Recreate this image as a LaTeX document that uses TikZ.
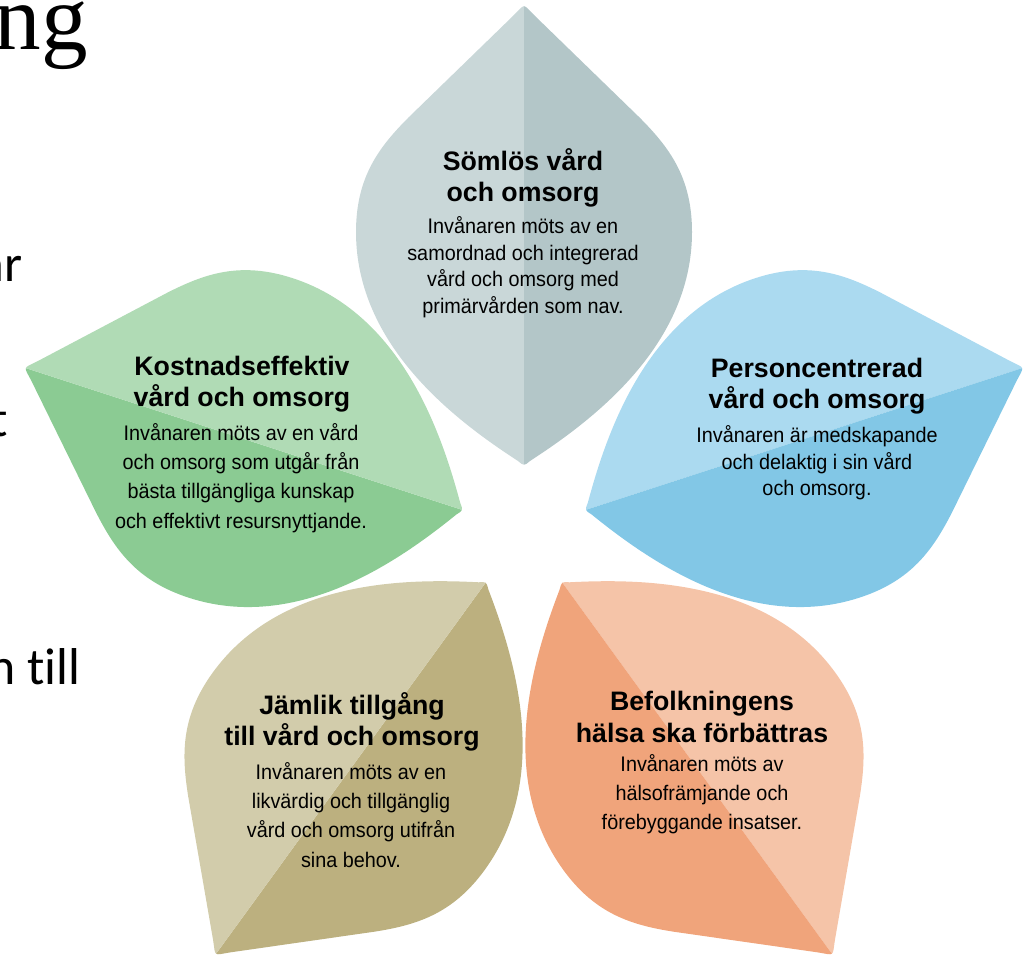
\documentclass[tikz,border=0pt]{standalone}
\usepackage{fontspec}
\newfontfamily\petalsans{Liberation Sans}
\newfontfamily\petalnarrow[FakeStretch=0.94]{Liberation Sans}
\newfontfamily\slideserif{Liberation Serif}
\newfontfamily\slidesans[Ligatures=NoCommon]{Carlito}
\definecolor{somlosA}{HTML}{C9D7D8}
\definecolor{somlosB}{HTML}{B3C6C8}
\definecolor{personA}{HTML}{ABDAF0}
\definecolor{personB}{HTML}{82C7E6}
\definecolor{halsaA}{HTML}{F5C4A8}
\definecolor{halsaB}{HTML}{F0A47B}
\definecolor{jamlikA}{HTML}{D2CCAB}
\definecolor{jamlikB}{HTML}{BCB07F}
\definecolor{kostA}{HTML}{B0DBB5}
\definecolor{kostB}{HTML}{8BCB93}
\begin{document}
\begin{tikzpicture}[x=0.02cm, y=0.02cm,
    pics/petal/.style 2 args={code={
        \begin{scope}[shift={(63,0)}]
        \clip (6,6) .. controls (45,66) and (120,168) .. (235,168)
            .. controls (290,168) and (320,145) .. (350,115) -- (451,11)
            .. controls (464,-2) and (464,2) .. (451,-11) -- (350,-115)
            .. controls (320,-145) and (290,-168) .. (235,-168)
            .. controls (120,-168) and (45,-66) .. (6,-6)
            .. controls (1,0) .. cycle;
        \fill[#1] (-5,0) rectangle (470,180);
        \fill[#2] (-5,0) rectangle (470,-180);
        \end{scope}
    }},
    petaltitle/.style={font=\petalsans\bfseries\fontsize{15.2}{17.9}\selectfont, align=center, inner sep=0pt},
    petalbody/.style={font=\petalnarrow\fontsize{12}{15.1}\selectfont, align=center, inner sep=0pt},
    petalloose/.style={font=\petalnarrow\fontsize{12}{16.6}\selectfont, align=center, inner sep=0pt},
    slidetext/.style={font=\slidesans\fontsize{29.5}{35}\selectfont, anchor=base east, inner sep=0pt}]
    \useasboundingbox (0,0) rectangle (1030,963);
    \coordinate (ctr) at (524,433);
    % petals
    \pic[rotate=90] at (ctr) {petal={somlosA}{somlosB}};
    \pic[rotate=18] at (ctr) {petal={personA}{personB}};
    \pic[rotate=-54] at (ctr) {petal={halsaA}{halsaB}};
    \pic[rotate=-126] at (ctr) {petal={jamlikB}{jamlikA}};
    \pic[rotate=162] at (ctr) {petal={kostB}{kostA}};

    \node[petaltitle] (somlosT) at (523,785) {Sömlös vård\\och omsorg};
    \node[petalbody] (somlosX) at (523,696) {Invånaren möts av en\\samordnad och integrerad\\vård och omsorg med\\primärvården som nav.};
    \node[petaltitle] (personT) at (817,577) {Personcentrerad\\vård och omsorg};
    \node[petalbody] (personX) at (817,500) {Invånaren är medskapande\\och delaktig i sin vård\\och omsorg.};
    \node[petaltitle] (kostT) at (242,579) {Kostnadseffektiv\\vård och omsorg};
    \node[petalloose] (kostX) at (241,485) {Invånaren möts av en vård\\och omsorg som utgår från\\bästa tillgängliga kunskap\\och effektivt resursnyttjande.};
    \node[petaltitle] (jamlikT) at (352,241) {Jämlik tillgång\\till vård och omsorg};
    \node[petalloose] (jamlikX) at (351,148) {Invånaren möts av en\\likvärdig och tillgänglig\\vård och omsorg utifrån\\sina behov.};
    \node[petaltitle] (halsaT) at (702,246) {Befolkningens\\hälsa ska förbättras};
    \node[petalloose] (halsaX) at (702,169) {Invånaren möts av\\hälsofrämjande och\\förebyggande insatser.};

    \node[anchor=base east, inner sep=0pt, font=\slideserif\fontsize{53}{60}\selectfont] (headfrag) at (88,913) {ng};
    \node[slidetext] (lineA) at (23,681) {ar};
    \node[slidetext] (lineB) at (8,526) {t};
    \node[slidetext] (lineC) at (81,278) {n till};
\end{tikzpicture}
\end{document}
